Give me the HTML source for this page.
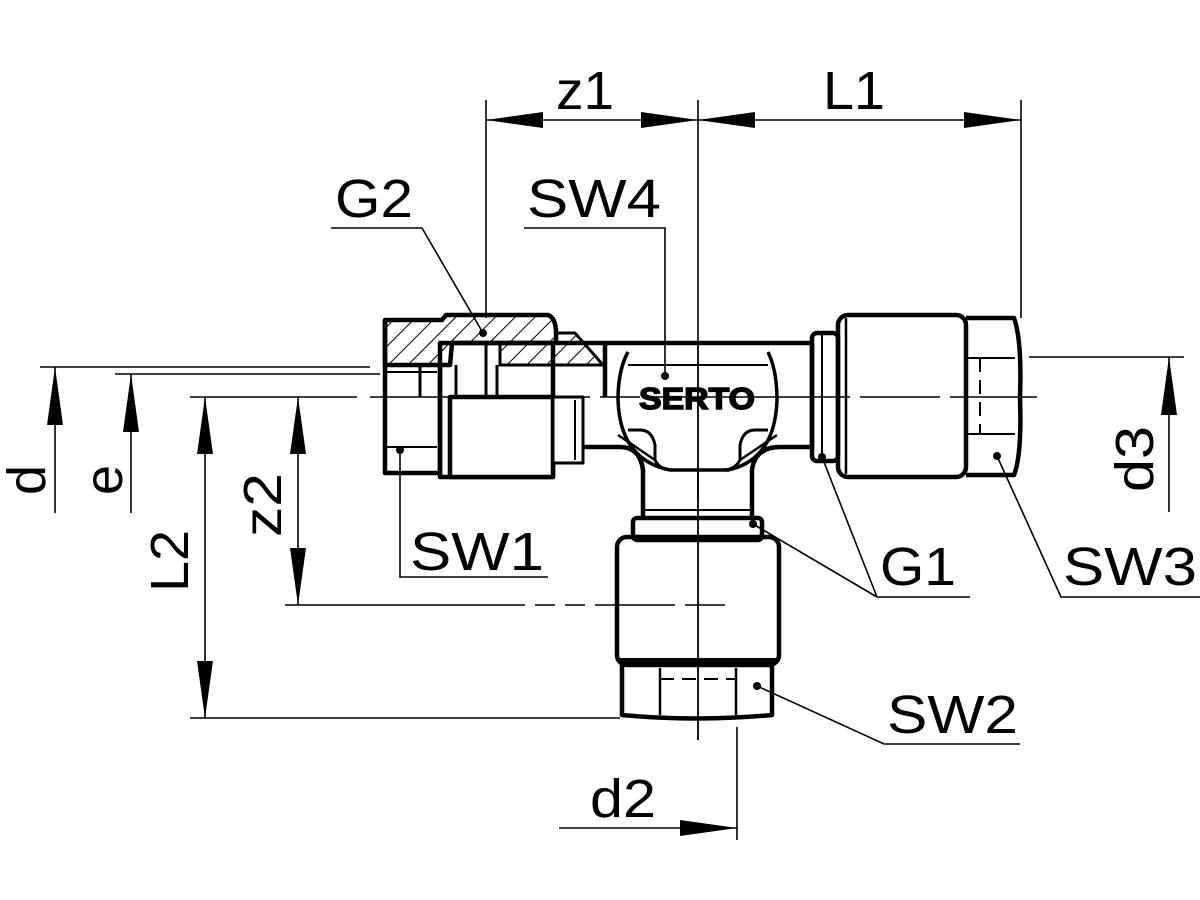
<!DOCTYPE html>
<html><head><meta charset="utf-8"><style>html,body{margin:0;padding:0;background:#fff}svg{display:block}</style></head>
<body>
<svg width="1200" height="900" viewBox="0 0 1200 900" xmlns="http://www.w3.org/2000/svg">
<defs>
<pattern id="h" patternUnits="userSpaceOnUse" width="14" height="14" patternTransform="rotate(45)">
<line x1="0" y1="0" x2="0" y2="14" stroke="#000" stroke-width="2"/></pattern>
</defs>
<g font-family="Liberation Sans, Arial, sans-serif" font-size="54" fill="#000">
<text x="556" y="109" textLength="58" lengthAdjust="spacingAndGlyphs">z1</text>
<text x="823" y="109" textLength="62" lengthAdjust="spacingAndGlyphs">L1</text>
<text x="335" y="217" textLength="78" lengthAdjust="spacingAndGlyphs">G2</text>
<text x="527" y="217" textLength="134" lengthAdjust="spacingAndGlyphs">SW4</text>
<text x="410" y="570" textLength="134" lengthAdjust="spacingAndGlyphs">SW1</text>
<text x="880" y="585" textLength="76" lengthAdjust="spacingAndGlyphs">G1</text>
<text x="1063" y="585" textLength="134" lengthAdjust="spacingAndGlyphs">SW3</text>
<text x="887" y="733" textLength="131" lengthAdjust="spacingAndGlyphs">SW2</text>
<text x="590" y="817" textLength="66" lengthAdjust="spacingAndGlyphs">d2</text>
<text transform="translate(45,495) rotate(-90)">d</text>
<text transform="translate(122,495) rotate(-90)">e</text>
<text transform="translate(188,592) rotate(-90)" textLength="62" lengthAdjust="spacingAndGlyphs">L2</text>
<text transform="translate(281,537) rotate(-90)" textLength="64" lengthAdjust="spacingAndGlyphs">z2</text>
<text transform="translate(1153,492) rotate(-90)" textLength="66" lengthAdjust="spacingAndGlyphs">d3</text>
</g>
<g stroke="#000" stroke-width="1.6" fill="none">
<line x1="486" y1="100" x2="486" y2="318"/>
<line x1="698" y1="100" x2="698" y2="500"/>
<line x1="1021" y1="100" x2="1021" y2="318"/>
<line x1="486" y1="120" x2="1021" y2="120"/>
<line x1="40" y1="367" x2="370" y2="367"/>
<line x1="115" y1="374" x2="380" y2="374"/>
<line x1="190" y1="397" x2="357" y2="397"/>
<line x1="55" y1="367" x2="55" y2="513"/>
<line x1="131" y1="374" x2="131" y2="513"/>
<line x1="205" y1="397" x2="205" y2="718"/>
<line x1="298" y1="397" x2="298" y2="605"/>
<line x1="190" y1="718" x2="620" y2="718"/>
<line x1="285" y1="605" x2="740" y2="605" stroke-dasharray="240 10 20 10 20 10 80 10 40"/>
<line x1="370" y1="397" x2="1037" y2="397" stroke-dasharray="120 10 20 10 60 10 40 10 200 10 80 10 140 10 60"/>
<line x1="1029" y1="357" x2="1184" y2="357"/>
<line x1="1169" y1="357" x2="1169" y2="512"/>
<line x1="559" y1="828" x2="737" y2="828"/>
<line x1="737" y1="727" x2="737" y2="840"/>
<line x1="698" y1="470" x2="698" y2="740"/>
<polyline points="331,228 422,228 483,333"/>
<polyline points="524,228 665,228 665,375"/>
<polyline points="400,450 400,577 548,577"/>
<polyline points="822,457 877,597 970,597"/>
<line x1="753" y1="524" x2="877" y2="597"/>
<polyline points="997,456 1061,597 1200,597"/>
<polyline points="757,686 884,744 1020,744"/>
</g>
<g fill="#000">
<polygon points="486,120 543,112 543,128"/>
<polygon points="698,120 641,112 641,128"/>
<polygon points="698,120 755,112 755,128"/>
<polygon points="1021,120 964,112 964,128"/>
<polygon points="55,367 47,425 63,425"/>
<polygon points="131,374 123,432 139,432"/>
<polygon points="205,397 197,454 213,454"/>
<polygon points="205,718 197,661 213,661"/>
<polygon points="298,397 290,454 306,454"/>
<polygon points="298,605 290,548 306,548"/>
<polygon points="1169,357 1161,415 1177,415"/>
<polygon points="737,828 680,820 680,836"/>
<circle cx="483" cy="333" r="4"/><circle cx="665" cy="376" r="4"/>
<circle cx="400" cy="450" r="4"/><circle cx="822" cy="457" r="4"/>
<circle cx="753" cy="524" r="4"/><circle cx="997" cy="456" r="4"/>
<circle cx="757" cy="686" r="4"/>
</g>
<g stroke="#000" stroke-width="4.5" fill="none" stroke-linejoin="round">
<path d="M385,320 L442,320 L446,315 L548,315 Q556,318 556,333 L556,343 L452,343 L450,365 L385,365 Z" fill="url(#h)"/>
<path d="M500,343 L500,365 L603,365 L575,333 L556,333 L556,343 Z" fill="url(#h)" stroke-width="3"/>
<path d="M385,320 L385,473 L442,473"/>
<line x1="385" y1="447" x2="437" y2="447" stroke-width="2"/>
<line x1="385" y1="372" x2="437" y2="372" stroke-width="2"/>
<line x1="440" y1="365" x2="440" y2="475"/>
<rect x="440" y="343" width="113" height="134" fill="none"/>
<line x1="420" y1="365" x2="420" y2="397" stroke-width="3"/>
<line x1="456" y1="365" x2="456" y2="397" stroke-width="3"/>
<line x1="486" y1="345" x2="486" y2="397" stroke-width="3"/>
<line x1="497" y1="365" x2="497" y2="397" stroke-width="3"/>
<rect x="450" y="397" width="103" height="80" fill="#fff"/>
<line x1="556" y1="343" x2="812" y2="343"/>
<line x1="605" y1="343" x2="605" y2="397"/>
<path d="M553,447 L620,447 Q640,447 643,470 L643,518"/>
<path d="M812,343 L812,447 L780,447 Q755,447 752,470 L752,518"/>
<rect x="553" y="397" width="30" height="66" fill="#fff" stroke-width="3"/>
<line x1="575" y1="400" x2="575" y2="460" stroke-width="2"/>
<path d="M628,352 Q618,370 618,400 Q620,460 670,470 L728,470 Q775,460 777,400 Q777,370 768,352" stroke-width="3.5"/>
<path d="M628,365 L768,365" stroke-width="2"/>
<path d="M628,430 L640,430 Q652,430 655,445 L655,460 Q660,470 672,470" stroke-width="3"/>
<path d="M768,430 L755,430 Q743,430 740,445 L740,460 Q735,470 722,470" stroke-width="3"/>
<path d="M618,435 L655,460 M777,435 L740,460" stroke-width="2.5"/>
<rect x="812" y="333" width="26" height="128" rx="5"/>
<line x1="822" y1="335" x2="822" y2="458" stroke-width="2"/>
<rect x="838" y="315" width="128" height="162" rx="10"/>
<line x1="846" y1="318" x2="846" y2="474" stroke-width="2.5"/>
<path d="M966,318 L1014,318 Q1022,340 1020,397 Q1022,455 1014,475 L966,475" />
<line x1="966" y1="358" x2="1015" y2="358" stroke-width="2"/>
<line x1="966" y1="434" x2="1015" y2="434" stroke-width="2"/>
<line x1="980" y1="358" x2="980" y2="434" stroke-width="2" stroke-dasharray="14 8"/>
<rect x="643" y="510" width="109" height="8" stroke-width="2"/>
<rect x="633" y="518" width="129" height="22" rx="4"/>
<rect x="617" y="537" width="162" height="128" rx="10"/>
<line x1="620" y1="661" x2="776" y2="661" stroke-width="6"/>
<path d="M622,665 L622,715 Q698,722 772,715 L772,665"/>
<line x1="660" y1="668" x2="660" y2="715" stroke-width="2.5"/>
<line x1="736" y1="668" x2="736" y2="715" stroke-width="2.5"/>
<line x1="660" y1="679" x2="736" y2="679" stroke-width="2" stroke-dasharray="14 8"/>
</g>
<line x1="698" y1="343" x2="698" y2="740" stroke="#000" stroke-width="1.5"/>
<text x="697" y="409" font-family="Liberation Sans, Arial, sans-serif" font-weight="bold" font-size="31" text-anchor="middle" stroke="#000" stroke-width="1.5" textLength="116" lengthAdjust="spacingAndGlyphs">SERTO</text>
</svg>
</body></html>
